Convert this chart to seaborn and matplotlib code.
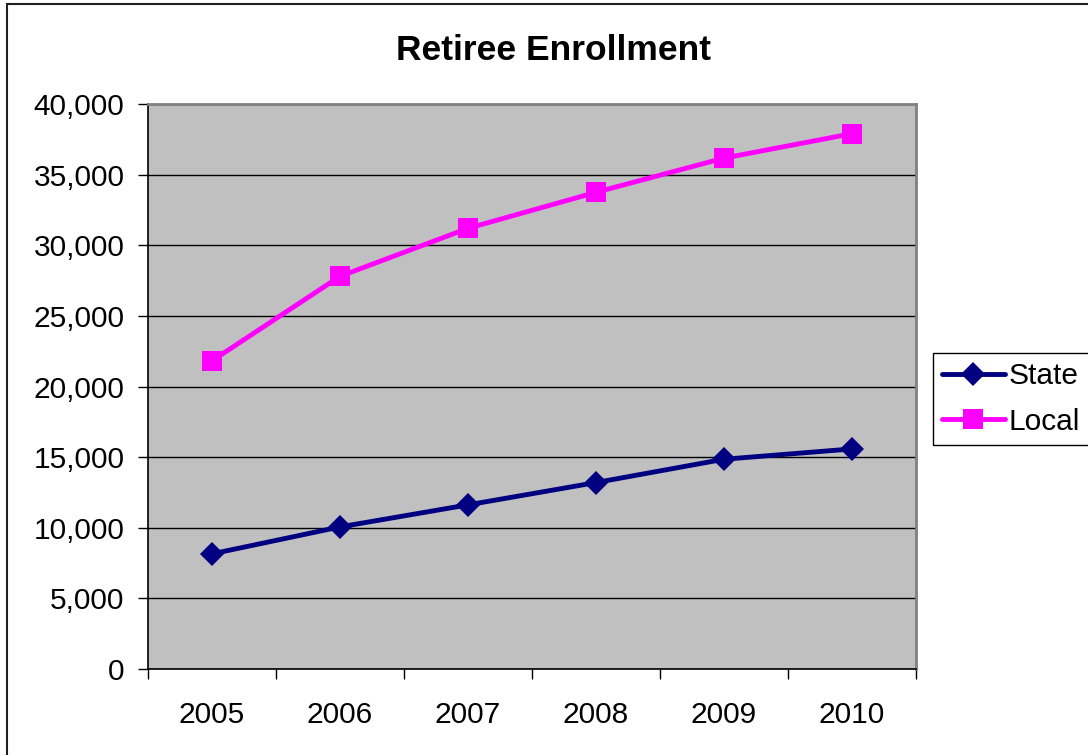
import matplotlib
matplotlib.use("Agg")
import matplotlib.pyplot as plt
from matplotlib.patches import Rectangle
from matplotlib.ticker import FixedLocator, FuncFormatter
import seaborn as sns
import pandas as pd

years = ["2005", "2006", "2007", "2008", "2009", "2010"]
state = [8150, 10060, 11620, 13200, 14850, 15580]
local = [21820, 27800, 31200, 33750, 36170, 37900]

df = pd.DataFrame({"pos": range(len(years)), "State": state, "Local": local})

sns.set_style("white")
plt.rcParams["font.family"] = ["Liberation Sans", "DejaVu Sans"]
plt.rcParams.update({"text.color": "black", "xtick.color": "black",
                     "ytick.color": "black", "axes.labelcolor": "black"})

FS = 21.5

fig = plt.figure(figsize=(10.88, 7.55), dpi=100)
ax = fig.add_axes([148 / 1088, 1 - 669 / 755, (916 - 148) / 1088, (669 - 104) / 755])
ax.set_facecolor("#C0C0C0")

sns.lineplot(data=df, x="pos", y="State", ax=ax, color="#000080", lw=3.5,
             marker="D", markersize=12.5, markeredgewidth=0, label="State")
sns.lineplot(data=df, x="pos", y="Local", ax=ax, color="#FF00FF", lw=3.5,
             marker="s", markersize=14.4, markeredgewidth=0, label="Local")

ax.set_xlim(-0.5, len(years) - 0.5)
ax.set_ylim(0, 40000)
ax.set_xlabel("")
ax.set_ylabel("")

# y axis: gridlines every 5,000 with thousands separators
ax.yaxis.set_major_locator(FixedLocator(range(0, 40001, 5000)))
ax.yaxis.set_major_formatter(FuncFormatter(lambda v, _: f"{int(v):,}"))
ax.grid(axis="y", color="black", lw=1)
ax.set_axisbelow(True)

# x axis: category labels centred between boundary ticks
ax.set_xticks(range(len(years)))
ax.set_xticklabels(years)
ax.set_xticks([i - 0.5 for i in range(len(years) + 1)], minor=True)
ax.tick_params(axis="x", which="major", length=0, pad=23, labelsize=FS)
ax.tick_params(axis="x", which="minor", length=7, width=1, color="black", direction="out")
ax.tick_params(axis="y", which="major", length=7, width=1, color="black",
               direction="out", labelsize=FS, pad=10)
ax.xaxis.set_ticks_position("bottom")
ax.yaxis.set_ticks_position("left")

for side in ("left", "bottom"):
    ax.spines[side].set_color("black")
    ax.spines[side].set_linewidth(1.2)
for side in ("top", "right"):
    ax.spines[side].set_color("#808080")
    ax.spines[side].set_linewidth(2)

ax.get_legend().remove()
handles, labels = ax.get_legend_handles_labels()
fig.legend(handles, labels, loc="upper left", bbox_to_anchor=(933 / 1088, 1 - 353 / 755),
           frameon=True, fancybox=False, edgecolor="black", framealpha=1,
           fontsize=FS, handlelength=2.1, handletextpad=0.12, borderpad=0.3,
           labelspacing=0.6, borderaxespad=0)
fig.legends[0].get_frame().set_linewidth(1)

fig.text(553 / 1088, 1 - 50 / 755, "Retiree Enrollment", ha="center", va="center",
         fontsize=25.5, fontweight="bold")

# chart border, open towards the right and bottom edges
fig.patches.append(Rectangle((7 / 1088, -0.05), 1.1, 1 - 4 / 755 + 0.05,
                             transform=fig.transFigure, fill=False,
                             edgecolor="#202020", lw=1.5, clip_on=False))

fig.savefig("out.png", dpi=100)
